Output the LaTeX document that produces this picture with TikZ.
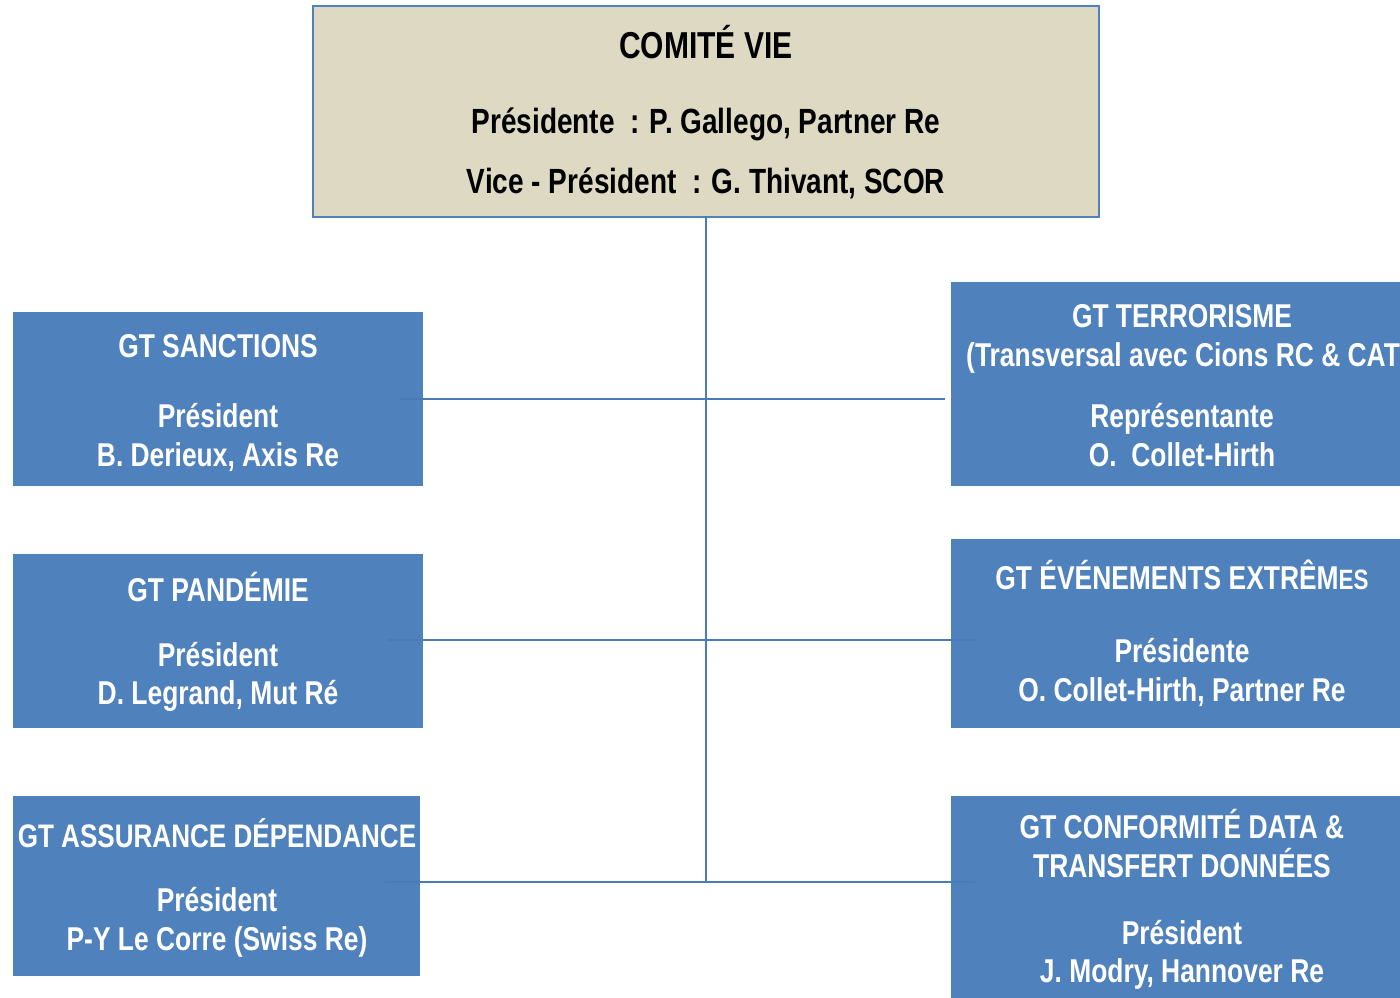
\documentclass[tikz,border=0pt]{standalone}
\usepackage{fontspec}
\setmainfont{Liberation Sans}[FakeStretch=0.8]
\definecolor{boxblue}{HTML}{4F81BD}
\definecolor{lineblue}{HTML}{4A7AB8}
\definecolor{beige}{HTML}{DDD9C3}
\tikzset{
  bluebox/.style={fill=boxblue, draw=none, inner sep=0pt, outer sep=0pt, anchor=north west},
  topbox/.style={fill=beige, draw=boxblue, line width=2pt, inner sep=0pt, outer sep=0pt, anchor=north west},
  wt/.style={text=white, font=\bfseries\fontsize{33}{40}\selectfont, inner sep=0pt, anchor=base},
  bt/.style={text=black, font=\bfseries\fontsize{35}{42}\selectfont, inner sep=0pt, anchor=base},
  conn/.style={draw=lineblue, line width=2pt}
}
\begin{document}
\begin{tikzpicture}[x=1pt,y=-1pt]
\useasboundingbox (0,0) rectangle (1400,997);
% boxes
\node[topbox, minimum width=786pt, minimum height=211pt] (top) at (313,6) {};
\node[bluebox, minimum width=410pt, minimum height=174pt] (L1) at (13,312) {};
\node[bluebox, minimum width=410pt, minimum height=174pt] (L2) at (13,554) {};
\node[bluebox, minimum width=407pt, minimum height=180pt] (L3) at (13,796) {};
\node[bluebox, minimum width=460pt, minimum height=204pt] (R1) at (951,282) {};
\node[bluebox, minimum width=460pt, minimum height=189pt] (R2) at (951,539) {};
\node[bluebox, minimum width=460pt, minimum height=210pt] (R3) at (951,796) {};
% connectors
\coordinate (j3) at (706,882);
\draw[conn] (top.south) -- (j3);
\draw[conn] ([xshift=-23pt]L1.east) -- ([xshift=-6pt]R1.west |- L1.east);
\draw[conn] ([xshift=-35pt]L2.east |- 0,640) -- ([xshift=24pt]R2.west |- 0,640);
\draw[conn] ([xshift=-35pt]L3.east |- j3) -- ([xshift=24pt]R3.west |- j3);
% top texts
\node[bt, font=\bfseries\fontsize{37.5}{44}\selectfont] (t1) at (706,58) {COMITÉ VIE};
\node[bt] (t2) at (706,133) {Présidente\ \ : P. Gallego, Partner Re};
\node[bt] (t3) at (706,193) {Vice - Président\ \ : G. Thivant, SCOR};
% left texts
\node[wt] (l1a) at (218,357) {GT SANCTIONS};
\node[wt] (l1b) at (218,427) {Président};
\node[wt] (l1c) at (218,466) {B. Derieux, Axis Re};
\node[wt] (l2a) at (218,601) {GT PANDÉMIE};
\node[wt] (l2b) at (218,666) {Président};
\node[wt] (l2c) at (218,704) {D. Legrand, Mut Ré};
\node[wt, font=\bfseries\fontsize{32.6}{40}\selectfont] (l3a) at (217,847) {GT ASSURANCE DÉPENDANCE};
\node[wt] (l3b) at (217,911) {Président};
\node[wt] (l3c) at (217,950) {P-Y Le Corre (Swiss Re)};
% right texts
\node[wt] (r1a) at (1182,327) {GT TERRORISME};
\node[wt, anchor=base west] (r1b) at (966,366) {(Transversal avec Cions RC \& CAT};
\node[wt] (r1c) at (1182,427) {Représentante};
\node[wt] (r1d) at (1182,466) {O.\ \ Collet-Hirth};
\node[wt] (r2a) at (1182,589) {GT ÉVÉNEMENTS EXTRÊM{\fontsize{28}{34}\selectfont ES}};
\node[wt] (r2b) at (1182,662) {Présidente};
\node[wt] (r2c) at (1182,701) {O. Collet-Hirth, Partner Re};
\node[wt] (r3a) at (1182,838) {GT CONFORMITÉ DATA \&};
\node[wt] (r3b) at (1182,877) {TRANSFERT DONNÉES};
\node[wt] (r3c) at (1182,944) {Président};
\node[wt] (r3d) at (1182,982) {J. Modry, Hannover Re};
\end{tikzpicture}
\end{document}
